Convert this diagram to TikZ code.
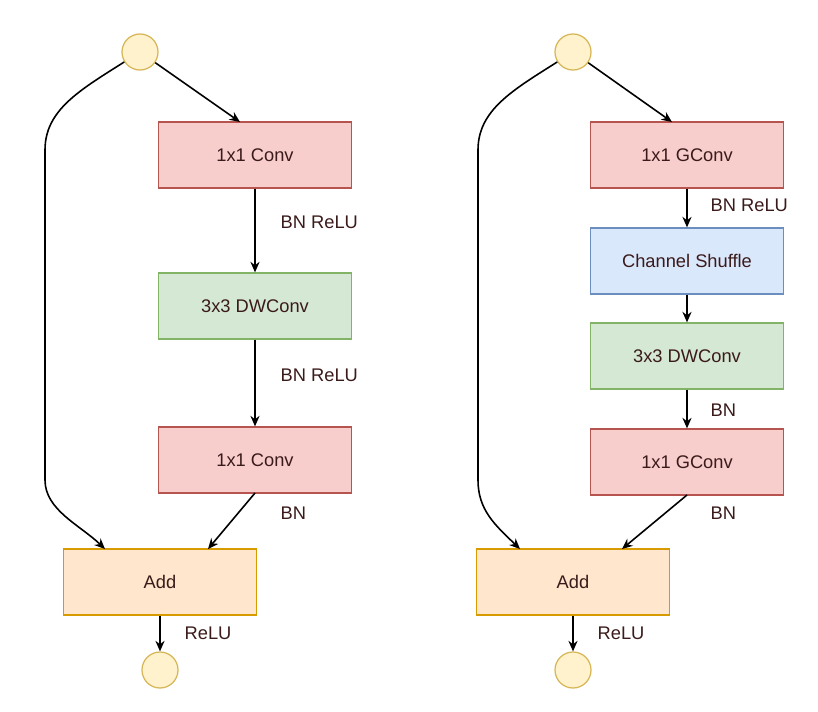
\documentclass[tikz,border=0pt]{standalone}
\usepackage{fontspec}
\setmainfont{Liberation Sans}
\usetikzlibrary{arrows.meta}
\definecolor{rf}{HTML}{F8CECC}\definecolor{rs}{HTML}{B85450}
\definecolor{gf}{HTML}{D5E8D4}\definecolor{gs}{HTML}{82B366}
\definecolor{bf}{HTML}{DAE8FC}\definecolor{bs}{HTML}{6C8EBF}
\definecolor{of}{HTML}{FFE6CC}\definecolor{os}{HTML}{D79B00}
\definecolor{cf}{HTML}{FFF2CC}\definecolor{cs}{HTML}{D6B656}
\definecolor{tx}{HTML}{3A1A1A}
\begin{document}
\begin{tikzpicture}[x=0.01cm,y=-0.01cm,
  font=\fontsize{5.2}{6}\selectfont, text=tx,
  box/.style={draw,line width=0.35pt,minimum width=1.93cm,minimum height=0.66cm,inner sep=0pt},
  red/.style={box,fill=rf,draw=rs}, grn/.style={box,fill=gf,draw=gs},
  blu/.style={box,fill=bf,draw=bs}, org/.style={box,fill=of,draw=os},
  circ/.style={circle,draw=cs,fill=cf,line width=0.35pt,minimum size=0.36cm,inner sep=0pt},
  arr/.style={draw=black,line width=0.45pt,-{Stealth[length=3pt,width=2.6pt]}},
  lab/.style={anchor=west,inner sep=0pt}]
\useasboundingbox (0,0) rectangle (818,712);
% left
\node[circ] (t1) at (140,52) {};
\node[red] (a1) at (255,155) {1x1 Conv};
\node[grn] (a2) at (255,306) {3x3 DWConv};
\node[red] (a3) at (255,460) {1x1 Conv};
\node[org] (ad1) at (160,582) {Add};
\node[circ] (b1) at (160,670) {};
\coordinate (a1t) at (240,122);
\draw[arr] (t1) -- (a1t);
\draw[arr] (a1) -- (a2);
\draw[arr] (a2) -- (a3);
\draw[arr] (255,493) -- (208,549);
\draw[arr] (t1) .. controls (80,90) and (45,110) .. (45,150) -- (45,480) .. controls (45,510) and (80,525) .. (105,549);
\draw[arr] (ad1) -- (b1);
\node[lab] (l1) at (280,222) {BN ReLU};
\node[lab] (l2) at (280,375) {BN ReLU};
\node[lab] (l3) at (280,513) {BN};
\node[lab] (l4) at (184,633) {ReLU};
% right
\node[circ] (t2) at (573,52) {};
\node[red] (c1) at (687,155) {1x1 GConv};
\node[blu] (c2) at (687,261) {Channel Shuffle};
\node[grn] (c3) at (687,356) {3x3 DWConv};
\node[red] (c4) at (687,462) {1x1 GConv};
\node[org] (ad2) at (573,582) {Add};
\node[circ] (b2) at (573,670) {};
\coordinate (c1t) at (672,122);
\draw[arr] (t2) -- (c1t);
\draw[arr] (c1) -- (c2);
\draw[arr] (c2) -- (c3);
\draw[arr] (c3) -- (c4);
\draw[arr] (687,495) -- (622,549);
\draw[arr] (t2) .. controls (513,90) and (478,110) .. (478,150) -- (478,480) .. controls (478,510) and (495,525) .. (520,549);
\draw[arr] (ad2) -- (b2);
\node[lab] (m1) at (710,205) {BN ReLU};
\node[lab] (m2) at (710,410) {BN};
\node[lab] (m3) at (710,513) {BN};
\node[lab] (m4) at (597,633) {ReLU};
\end{tikzpicture}
\end{document}
